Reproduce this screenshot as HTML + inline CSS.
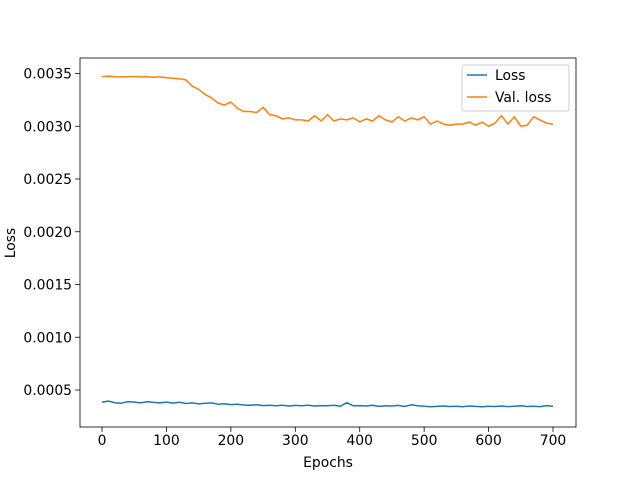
<!DOCTYPE html>
<html><head><meta charset="utf-8"><style>
body{margin:0;background:#fff;}
svg text{font-family:"DejaVu Sans","Liberation Sans",sans-serif;font-size:13.9px;fill:#000;}
</style></head><body>
<svg id="chart" width="640" height="480" xmlns="http://www.w3.org/2000/svg">
<rect width="640" height="480" fill="#fff"/>
<g id="plot"></g>
</svg>
<script>
const epochs10 = [0,10,20,30,40,50,60,70,80,90,100,110,120,130,140,150,160,170,180,190,200,210,220,230,240,250,260,270,280,290,300,310,320,330,340,350,360,370,380,390,400,410,420,430,440,450,460,470,480,490,500,510,520,530,540,550,560,570,580,590,600,610,620,630,640,650,660,670,680,690,700];
const valLoss = [.00347,.003475,.00347,.003468,.00347,.003472,.003468,.00347,.003465,.003468,.00346,.003455,.00345,.00344,.00338,.00335,.0033,.00327,.00322,.0032,.00323,.00317,.00314,.00314,.00313,.00318,.00311,.0031,.00307,.00308,.00306,.00306,.00305,.0031,.00305,.00311,.00305,.00307,.00306,.00308,.00304,.00307,.00305,.0031,.00306,.00304,.00309,.00305,.00308,.00306,.00309,.00302,.00305,.00302,.00301,.00302,.00302,.00304,.00301,.00304,.003,.00303,.0031,.00302,.00309,.003,.00301,.00309,.00306,.00303,.00302];
const trainLoss = [.000385,.000395,.00038,.000375,.00039,.000385,.000378,.00039,.000382,.000378,.000385,.000376,.000384,.000372,.000378,.000368,.000375,.000378,.000365,.00037,.000362,.000365,.000358,.000355,.00036,.000352,.000356,.00035,.000355,.000348,.000354,.00035,.000356,.000348,.000352,.00035,.000355,.000346,.00038,.00035,.000352,.000348,.000355,.000345,.00035,.000348,.000354,.000344,.00036,.00035,.000346,.000342,.000345,.000348,.000344,.000346,.000342,.000348,.000345,.000342,.000346,.000344,.000348,.000343,.000346,.00035,.000344,.000346,.000343,.000352,.000346];
const xTicks = [0,100,200,300,400,500,600,700];
const yTicks = [0.0005,0.0010,0.0015,0.0020,0.0025,0.0030,0.0035];
const yTickLabels = ["0.0005","0.0010","0.0015","0.0020","0.0025","0.0030","0.0035"];

const L=80,R=576,T=58,B=427;
const xs = e => 102 + e*0.6443;
const ys = v => 390 - (v-0.0005)/0.0005*52.75;
const NS="http://www.w3.org/2000/svg";
const g=document.getElementById('plot');
function mk(tag,attrs,parent){const el=document.createElementNS(NS,tag);for(const k in attrs)el.setAttribute(k,attrs[k]);(parent||g).appendChild(el);return el;}

function series(vals,color,name){
  const d=vals.map((v,i)=>(i?'L':'M')+xs(epochs10[i]).toFixed(1)+','+ys(v).toFixed(1)).join(' ');
  const p=mk('path',{d:d,fill:'none',stroke:color,'stroke-width':1.5,'stroke-linejoin':'round'});
  
  
}
series(trainLoss,'#1f77b4','loss-line');
series(valLoss,'#ff7f0e','val-loss-line');

const frame=mk('rect',{x:L,y:T,width:R-L,height:B-T,fill:'none',stroke:'#000','stroke-width':0.8});



xTicks.forEach(t=>{
  const x=xs(t);
  mk('line',{x1:x,x2:x,y1:B,y2:B+4.9,stroke:'#000','stroke-width':0.8});
  const tx=mk('text',{x:x,y:B+18,'text-anchor':'middle'});
  tx.textContent=t;
  
  
});
yTicks.forEach((t,i)=>{
  const y=ys(t);
  mk('line',{x1:L-4.9,x2:L,y1:y,y2:y,stroke:'#000','stroke-width':0.8});
  const tx=mk('text',{x:L-8,y:y+5,'text-anchor':'end'});
  tx.textContent=yTickLabels[i];
  
  
});
const xl=mk('text',{x:328,y:467,'text-anchor':'middle'});
xl.textContent='Epochs';


const yl=mk('text',{x:15,y:243,'text-anchor':'middle',transform:'rotate(-90 15 243)'});
yl.textContent='Loss';



const lg=mk('g',{});


mk('rect',{x:462,y:65,width:107,height:46,rx:2,fill:'#fff','fill-opacity':0.8,stroke:'#ccc','stroke-width':1},lg);
mk('line',{x1:467,x2:487,y1:75,y2:75,stroke:'#1f77b4','stroke-width':1.5},lg);
mk('line',{x1:467,x2:487,y1:97,y2:97,stroke:'#ff7f0e','stroke-width':1.5},lg);
const t1=mk('text',{x:495,y:80},lg);t1.textContent='Loss';


const t2=mk('text',{x:495,y:102},lg);t2.textContent='Val. loss';


</script>
</body></html>
